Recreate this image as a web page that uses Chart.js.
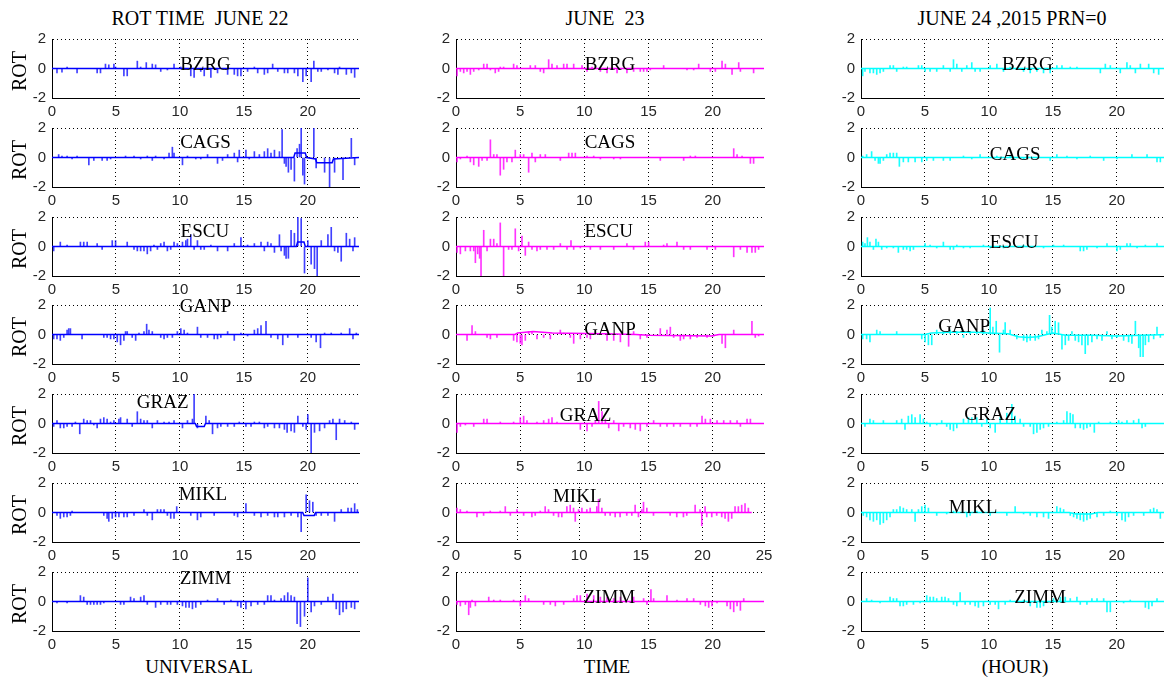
<!DOCTYPE html>
<html>
<head>
<meta charset="utf-8">
<script src="https://cdn.jsdelivr.net/npm/chart.js@4.4.1/dist/chart.umd.min.js"></script>
<style>
  html, body { margin: 0; padding: 0; background: #fff; }
  body { width: 1164px; height: 682px; position: relative; overflow: hidden; }
  canvas { position: absolute; }
  .txt { position: absolute; font-family: "Liberation Serif", "Times New Roman", serif; font-size: 19px;
         color: #000; white-space: pre; line-height: 1; transform: translate(-50%, -50%); }
  .ttl { font-size: 20px; }
  .rot { font-size: 20px; transform: translate(-50%, -50%) rotate(-90deg); }
</style>
</head>
<body>
<div class="txt ttl" style="left:200px;top:18px">ROT TIME  JUNE 22</div>
<div class="txt ttl" style="left:605px;top:18px">JUNE  23</div>
<div class="txt ttl" style="left:1012px;top:18px">JUNE 24 ,2015 PRN=0</div>
<div class="txt" style="left:199px;top:666px">UNIVERSAL</div>
<div class="txt" style="left:607px;top:666px">TIME</div>
<div class="txt" style="left:1015px;top:666px">(HOUR)</div>
<script>
// ROT spikes per station, [hour, ROT]
const bzrg22 = [[0.39,-0.3],[0.78,-0.25],[1.18,0.1],[1.96,-0.3],[3.53,-0.3],[3.79,-0.3],[4.18,0.3],[4.44,0.25],[4.84,0.3],[4.97,0.1],
  [5.62,-0.5],[5.88,-0.5],[6.67,0.5],[6.93,0.1],[7.37,0.4],[7.84,0.3],[8.10,0.25],[8.50,-0.2],[9.02,-0.1],[9.54,0.3],[10.07,0.1],
  [10.85,-0.5],[11.11,-0.6],[11.63,-0.2],[11.90,-0.5],[12.42,-0.6],[12.94,-0.3],[13.73,-0.4],[14.25,-0.4],[14.51,-0.5],[14.77,-0.5],
  [15.29,-0.2],[15.82,0.1],[16.08,-0.3],[16.60,-0.4],[16.86,-0.3],[17.25,0.3],[17.65,-0.2],[18.17,-0.3],[18.43,-0.3],[18.95,-0.3],
  [19.22,-0.5],[19.61,-0.9],[19.87,-0.5],[20.26,-0.9],[20.47,0.5],[20.78,-0.2],[21.05,-0.2],[21.57,-0.1],[22.09,-0.3],[22.35,-0.4],
  [22.48,0.1],[23.01,-0.4],[23.40,-0.3],[23.66,-0.6]];
const cags22 = [[0.52,0.2],[0.78,0.1],[1.18,0.1],[1.57,-0.1],[1.96,0.1],[2.88,-0.5],[3.27,-0.2],[3.92,-0.2],[4.31,-0.2],[4.58,-0.1],
  [5.75,0.1],[6.41,0.1],[6.93,-0.1],[7.45,0.1],[7.84,-0.2],[8.10,0.1],[8.76,-0.1],[9.15,0.3],[9.41,0.7],[9.54,0.3],[10.20,-0.5],
  [10.59,0.1],[11.24,-0.1],[11.63,-0.1],[12.16,0.2],[12.94,-0.4],[13.33,-0.2],[13.73,0.2],[14.25,0.3],[14.51,-0.3],[14.64,0.5],
  [15.16,0.5],[15.42,-0.1],[15.82,0.4],[16.21,0.2],[16.60,0.4],[16.86,0.6],[17.12,0.3],[17.39,0.5],[17.78,0.4],[17.99,1.9],
  [18.17,-0.4],[18.30,-0.6],[18.48,-1.0],[18.69,-0.8],[18.95,-1.6],[19.16,0.6],[19.35,0.9],[19.48,2.0],[19.61,-1.2],[19.74,-1.8],
  [20.47,2.0],[20.65,-0.7],[21.31,-1.0],[21.70,-2.0],[22.09,-1.0],[22.75,-1.5],[23.40,1.3],[23.66,-0.5]];
const escu22 = [[0.13,-0.3],[0.65,0.3],[1.18,0.1],[2.22,0.3],[2.48,0.3],[2.75,0.3],[3.53,0.2],[3.92,-0.2],[4.71,0.4],[4.97,0.4],
  [5.88,0.3],[6.41,-0.2],[6.67,-0.3],[6.93,-0.3],[7.19,-0.3],[7.45,-0.5],[7.71,-0.3],[7.97,0.1],[8.24,-0.2],[8.50,0.2],[8.76,0.3],
  [9.02,-0.3],[9.28,-0.2],[9.54,0.3],[9.80,0.2],[10.20,0.3],[10.46,0.4],[10.59,0.5],[10.85,0.8],[11.11,-0.2],[11.37,0.4],[11.63,-0.2],
  [11.90,-0.2],[12.42,0.1],[12.94,-0.3],[13.73,-0.3],[14.25,0.2],[14.77,0.6],[15.29,0.1],[15.82,0.2],[16.34,0.3],[16.60,-0.3],
  [16.86,0.3],[17.12,0.2],[17.39,-0.4],[17.78,0.8],[17.91,-0.3],[18.17,-0.6],[18.30,-0.8],[18.48,-0.8],[18.69,1.1],[18.95,0.9],
  [19.22,2.0],[19.48,1.9],[19.74,-1.8],[20.00,0.4],[20.26,-1.2],[20.52,-1.5],[20.73,-2.0],[21.05,0.4],[21.57,0.8],[21.83,1.3],
  [22.09,-0.3],[22.35,-0.4],[22.61,-1.0],[23.01,0.9],[23.27,0.5],[23.53,-0.3],[23.66,0.6]];
const ganp22 = [[0.13,-0.3],[0.39,-0.3],[0.65,-0.4],[0.92,-0.2],[1.18,0.3],[1.31,0.4],[1.44,0.4],[2.35,-0.3],[4.05,-0.2],[4.31,-0.2],
  [4.58,-0.3],[4.84,-0.3],[5.10,-0.5],[5.36,-0.7],[5.62,-0.4],[5.75,0.2],[5.88,0.2],[6.27,-0.2],[6.54,-0.4],[6.80,0.1],[7.19,0.2],
  [7.40,0.7],[7.58,0.3],[7.84,0.2],[8.50,-0.2],[8.76,-0.3],[9.02,-0.2],[9.41,-0.2],[9.80,0.2],[10.07,0.4],[10.33,0.3],[10.59,0.1],
  [11.37,0.5],[11.63,-0.2],[12.16,-0.2],[12.68,-0.3],[12.94,-0.3],[13.20,-0.2],[13.73,0.2],[14.25,-0.4],[14.77,0.1],[15.29,-0.1],
  [15.82,0.3],[16.08,0.4],[16.34,0.6],[16.73,0.9],[17.12,-0.2],[17.65,-0.3],[18.04,-0.7],[18.43,-0.2],[19.22,-0.2],[20.26,-0.2],
  [20.65,-0.5],[20.99,-0.9],[21.31,0.1],[21.83,0.1],[22.61,0.1],[23.27,0.4],[23.53,-0.3],[23.79,0.1]];
const graz22 = [[0.13,-0.2],[0.39,0.2],[0.65,-0.3],[0.92,-0.3],[1.18,-0.2],[1.57,-0.2],[1.83,0.1],[2.17,-0.7],[2.48,0.3],[2.75,0.2],
  [3.01,0.2],[3.27,-0.1],[3.53,-0.3],[3.79,0.3],[4.05,0.4],[4.31,0.3],[4.58,0.1],[4.84,0.2],[5.23,0.3],[5.36,0.4],[5.88,0.3],
  [6.27,-0.2],[6.67,0.8],[6.93,0.3],[7.19,0.2],[7.45,0.2],[7.84,-0.3],[8.24,0.2],[8.76,0.1],[9.15,0.1],[9.54,0.2],[10.20,-0.3],
  [10.59,0.2],[10.98,0.3],[11.11,2.0],[11.37,-0.3],[12.03,0.5],[12.29,0.2],[12.55,-0.7],[12.94,-0.3],[13.20,-0.2],[13.73,-0.2],
  [14.25,-0.2],[14.64,0.1],[15.16,-0.2],[15.56,-0.2],[15.82,0.1],[16.21,0.1],[16.60,-0.3],[16.86,-0.2],[17.39,-0.3],[17.78,-0.3],
  [18.17,-0.4],[18.38,-0.6],[18.69,-0.5],[18.95,-0.6],[19.22,0.5],[19.61,-0.2],[19.87,-0.4],[20.00,0.6],[20.26,-2.0],[20.52,-0.6],
  [20.92,-0.5],[21.31,-0.3],[21.70,0.2],[21.96,0.3],[22.22,-1.1],[22.48,0.3],[22.88,0.2],[23.40,0.1],[23.66,-0.4]];
const mikl22 = [[0.39,-0.2],[0.65,-0.4],[0.92,-0.3],[1.18,-0.3],[1.44,-0.2],[1.57,0.1],[4.05,-0.2],[4.31,-0.4],[4.44,-0.6],[4.71,-0.4],
  [4.97,-0.3],[5.23,-0.3],[5.62,-0.3],[5.88,-0.3],[6.41,-0.2],[7.19,0.2],[7.45,-0.2],[7.84,-0.5],[8.24,0.2],[8.50,0.2],[8.76,0.2],
  [9.02,-0.2],[9.28,-0.4],[9.54,-0.4],[9.75,0.4],[10.85,-0.2],[11.37,-0.5],[11.63,-0.3],[12.68,-0.2],[14.25,-0.2],[14.51,-0.3],
  [15.16,0.6],[15.82,-0.2],[16.34,-0.3],[16.86,-0.2],[17.39,-0.3],[17.65,-0.3],[18.17,-0.3],[18.69,-0.2],[19.22,-0.3],[19.48,-1.3],
  [19.87,1.2],[20.13,0.8],[20.39,0.7],[20.65,-0.2],[21.05,-0.2],[21.57,-0.2],[22.09,-0.6],[22.61,0.2],[23.14,0.3],[23.40,0.3],
  [23.66,0.6],[23.87,0.2]];
const zimm22 = [[0.39,-0.1],[1.18,-0.1],[2.22,0.4],[2.48,0.3],[2.75,-0.2],[3.01,-0.2],[3.27,-0.2],[3.53,-0.2],[3.79,-0.2],[4.05,-0.1],
  [5.36,-0.2],[5.62,-0.2],[6.14,0.3],[6.41,0.2],[6.93,0.3],[7.19,0.4],[7.45,-0.2],[8.10,-0.4],[8.50,-0.2],[9.02,-0.2],[9.28,-0.2],
  [9.80,-0.2],[10.20,-0.3],[10.46,-0.4],[10.72,-0.4],[10.98,-0.5],[11.24,-0.4],[11.63,-0.2],[12.16,0.1],[12.94,0.2],[13.46,-0.2],
  [13.99,0.1],[14.51,-0.3],[14.77,-0.4],[15.16,-0.5],[15.56,-0.3],[16.08,-0.2],[16.60,-0.2],[16.86,0.4],[17.12,0.4],[17.39,0.1],
  [17.91,0.2],[18.17,0.4],[18.43,0.6],[18.69,0.4],[18.95,0.3],[19.16,-1.5],[19.42,-1.7],[19.74,-1.0],[20.00,1.6],[20.26,-0.7],
  [20.52,-0.3],[21.05,-0.2],[21.57,0.3],[21.96,0.5],[22.22,-0.5],[22.48,-0.9],[22.75,-0.7],[23.01,-0.5],[23.40,-0.4],[23.66,-0.5]];

const bzrg23 = [[0.08,-0.5],[0.34,-0.2],[0.60,-0.3],[0.86,-0.2],[1.12,-0.4],[1.38,-0.2],[1.77,-0.1],[2.16,0.3],[2.42,0.3],[2.68,-0.1],
  [3.06,-0.3],[3.32,-0.2],[3.45,0.1],[3.71,0.1],[4.49,0.3],[4.75,0.2],[5.79,0.2],[6.18,0.2],[6.57,-0.2],[6.83,-0.3],[7.22,0.6],
  [7.48,0.3],[7.87,0.2],[8.39,0.3],[8.65,0.3],[9.17,0.3],[9.82,0.2],[10.21,-0.2],[10.60,0.1],[11.25,-0.2],[11.77,-0.3],[12.55,-0.3],
  [13.32,-0.3],[13.84,-0.2],[14.36,-0.2],[14.62,-0.2],[14.88,-0.2],[15.14,-0.1],[16.18,0.2],[18.00,-0.1],[18.52,-0.1],[18.91,0.3],
  [19.82,-0.2],[20.21,-0.2],[20.73,0.5],[20.99,0.3],[21.51,-0.4],[22.03,0.4],[22.16,-0.2],[23.19,-0.3]];
const cags23 = [[0.08,-0.3],[0.34,-0.1],[0.86,0.1],[1.12,-0.3],[1.38,-0.5],[1.77,-0.6],[2.03,-0.2],[2.42,-0.2],[2.68,1.2],[2.94,0.2],
  [3.19,0.2],[3.45,-1.2],[3.71,-0.8],[3.97,-0.3],[4.36,-0.3],[4.62,0.5],[5.01,0.2],[5.27,0.2],[5.66,-1.0],[5.92,0.3],[6.18,-0.3],
  [6.57,0.2],[6.96,0.2],[8.13,-0.2],[8.78,0.3],[9.04,0.3],[9.30,0.3],[10.21,0.1],[10.73,0.1],[11.25,-0.1],[12.29,-0.1],[12.81,-0.1],
  [15.92,-0.2],[17.74,-0.2],[18.26,0.1],[18.65,0.1],[21.64,0.6],[21.90,0.2],[22.29,0.1],[22.94,-0.4],[23.19,-0.4]];
const escu23 = [[0.08,-0.4],[0.34,-0.5],[0.73,-0.3],[1.12,-0.3],[1.38,-0.3],[1.51,-1.1],[1.69,-0.5],[1.84,-0.8],[1.95,-2.0],[2.16,1.1],
  [2.42,-0.3],[2.68,0.5],[2.94,0.5],[3.19,0.2],[3.45,1.6],[3.71,-2.0],[4.10,-0.2],[4.36,-0.2],[4.62,1.2],[4.88,-0.3],[5.14,0.7],
  [5.40,-0.6],[5.66,0.3],[5.92,-0.2],[6.31,-0.3],[6.57,-0.2],[7.09,-0.2],[7.61,-0.2],[8.13,0.2],[8.65,-0.2],[8.96,0.4],[9.17,-0.2],
  [9.69,-0.1],[10.47,-0.2],[11.25,-0.2],[12.29,-0.2],[13.32,0.2],[13.84,-0.2],[14.75,0.3],[15.01,0.3],[16.18,0.1],[16.44,0.2],
  [17.22,0.3],[17.74,-0.2],[18.26,-0.2],[19.56,-0.2],[20.21,-0.2],[21.64,-0.7],[22.16,-0.2],[22.68,-0.4],[23.06,-0.4],[23.32,-0.4],
  [23.58,-0.2]];
const ganp23 = [[0.86,-0.4],[1.25,0.6],[1.51,0.2],[2.42,-0.2],[2.68,-0.3],[3.19,-0.2],[4.49,-0.4],[4.75,-0.5],[5.01,-0.6],[5.14,-0.7],
  [5.40,-0.4],[5.66,0.2],[5.92,0.2],[6.31,-0.3],[6.83,-0.2],[7.35,-0.3],[8.13,0.3],[8.39,0.1],[8.91,-0.2],[9.17,-0.6],[9.69,-0.3],
  [10.21,-0.2],[10.47,-0.3],[11.77,-0.4],[12.29,-0.4],[12.81,-0.5],[13.45,-0.8],[13.84,0.2],[14.36,-0.3],[14.88,-0.2],[15.92,0.4],
  [16.44,0.3],[16.70,0.5],[16.96,-0.2],[17.48,-0.4],[17.74,-0.3],[18.26,-0.3],[18.78,-0.2],[19.56,-0.2],[20.08,-0.1],[20.73,-0.6],
  [20.99,-0.9],[21.64,0.3],[23.06,0.9],[23.32,-0.2],[23.58,-0.1]];
const graz23 = [[0.08,-0.6],[0.34,-0.2],[0.73,-0.1],[1.38,-0.2],[2.16,0.3],[2.42,0.3],[3.45,0.1],[4.49,0.1],[5.01,0.4],[5.27,0.5],
  [5.53,0.2],[6.31,0.1],[6.83,0.2],[7.22,0.3],[7.48,0.4],[7.87,0.1],[9.69,-0.4],[10.21,-0.5],[10.60,-0.2],[10.86,0.2],[11.12,1.5],
  [11.38,0.8],[11.64,0.3],[11.90,-0.3],[12.29,0.2],[12.68,-0.5],[13.06,-0.2],[13.58,-0.3],[13.97,-0.4],[14.36,-0.5],[14.88,-0.2],
  [15.40,0.2],[15.92,-0.2],[16.44,-0.2],[16.96,-0.2],[17.48,-0.2],[18.26,-0.2],[18.78,-0.2],[19.17,0.5],[19.43,0.3],[19.82,0.3],
  [20.34,0.2],[20.86,0.2],[21.38,0.2],[21.90,0.2],[22.16,-0.2],[22.68,0.3],[22.94,0.3]];
const mikl23 = [[0.08,0.3],[0.35,0.2],[0.89,0.1],[1.70,-0.3],[2.24,-0.2],[2.78,0.1],[3.59,0.1],[4.00,0.4],[4.41,-0.2],[4.95,0.2],
  [5.49,-0.2],[6.16,-0.3],[6.43,-0.2],[6.84,0.1],[7.24,0.4],[7.51,0.2],[7.92,-0.2],[8.32,-0.3],[8.59,-0.3],[9.00,0.4],[9.27,0.5],
  [9.54,0.3],[9.68,-0.6],[9.95,0.2],[10.22,0.3],[10.62,0.2],[10.89,0.3],[11.43,0.4],[11.57,0.9],[11.84,0.3],[12.11,-0.2],[12.51,-0.2],
  [12.92,-0.3],[13.32,-0.3],[13.86,-0.2],[14.27,-0.2],[14.54,0.5],[14.81,-0.3],[15.08,0.2],[15.22,0.7],[15.49,0.3],[16.03,-0.2],
  [17.38,-0.2],[17.92,-0.3],[18.46,-0.3],[18.73,-0.2],[19.41,0.5],[19.81,0.2],[19.95,-0.9],[20.22,0.4],[20.35,-0.3],[20.76,-0.3],
  [21.16,-0.2],[21.57,-0.3],[21.84,-0.4],[22.11,-0.6],[22.38,-0.4],[22.65,0.4],[22.92,0.4],[23.19,0.5],[23.46,0.6],[23.73,0.3]];
const zimm23 = [[0.08,-0.2],[0.34,-0.3],[0.73,-0.2],[0.99,-0.9],[1.12,-0.4],[1.25,0.1],[1.51,-0.3],[2.55,0.3],[2.94,0.1],[3.45,0.1],
  [4.49,0.1],[5.01,-0.3],[5.40,0.4],[5.66,0.2],[6.83,-0.2],[7.35,-0.2],[7.74,-0.3],[8.39,-0.2],[9.17,0.2],[9.43,0.4],[9.69,0.4],
  [10.21,0.5],[10.73,0.4],[11.25,0.3],[11.77,0.3],[12.29,0.2],[12.81,0.3],[13.84,0.3],[14.62,0.2],[14.88,-0.2],[15.19,0.8],
  [15.40,0.2],[16.44,0.4],[17.22,0.1],[18.00,0.2],[18.52,0.2],[19.04,-0.2],[19.43,-0.3],[19.69,-0.4],[19.95,-0.3],[20.34,-0.1],
  [21.12,-0.3],[21.38,-0.5],[21.64,-0.7],[21.90,-0.3],[22.16,-0.6],[22.42,0.2]];

const bzrg24 = [[0.13,-0.5],[0.31,-0.2],[0.70,-0.3],[0.97,-0.3],[1.23,-0.4],[1.49,-0.3],[1.75,-0.2],[2.27,0.2],[2.53,0.2],[2.79,-0.2],
  [3.31,0.1],[3.57,0.1],[4.49,0.2],[4.75,0.2],[5.01,-0.2],[5.40,-0.2],[5.92,-0.2],[6.44,0.2],[6.97,-0.2],[7.23,0.6],[7.49,0.3],
  [7.88,-0.2],[8.27,0.2],[8.66,0.4],[8.92,-0.2],[9.31,-0.2],[10.10,0.2],[10.62,0.3],[11.14,-0.2],[11.66,0.1],[12.71,-0.2],
  [13.23,-0.3],[13.75,-0.2],[14.27,-0.3],[14.79,-0.3],[15.31,0.2],[15.71,0.2],[16.36,0.1],[16.88,0.1],[18.71,-0.3],[19.10,0.3],
  [19.49,0.2],[20.27,-0.3],[20.79,0.4],[21.05,0.2],[21.45,-0.3],[21.84,0.3],[22.49,0.3],[22.88,-0.3],[23.27,-0.4]];
const cags24 = [[0.13,0.1],[0.44,0.2],[0.83,0.4],[1.10,-0.2],[1.36,-0.4],[1.49,-0.4],[1.75,-0.2],[2.01,0.2],[2.27,0.3],[2.53,0.3],
  [2.79,0.3],[3.00,-0.6],[3.31,-0.3],[3.70,-0.3],[4.23,-0.3],[4.75,-0.3],[5.14,-0.2],[5.66,-0.2],[6.44,-0.2],[6.97,-0.2],[8.01,0.1],
  [8.66,-0.1],[9.31,0.2],[10.62,0.1],[11.66,0.1],[12.71,-0.1],[14.79,-0.2],[15.31,0.2],[16.10,0.1],[16.88,-0.1],[17.92,0.1],
  [18.97,-0.2],[20.01,-0.1],[21.18,0.2],[22.36,0.2],[23.14,-0.3],[23.40,-0.3]];
const escu24 = [[0.13,0.3],[0.31,0.2],[0.50,0.6],[0.70,0.3],[0.97,-0.2],[1.17,0.5],[1.36,0.3],[1.62,-0.2],[2.01,-0.1],[2.53,-0.1],
  [2.92,-0.4],[3.31,-0.2],[3.57,-0.2],[3.84,-0.3],[4.10,-0.2],[5.01,0.2],[5.40,0.1],[5.92,-0.1],[6.44,0.3],[6.97,-0.2],[7.23,-0.2],
  [7.49,0.1],[8.01,-0.1],[8.53,-0.1],[9.57,0.1],[10.10,-0.1],[11.14,-0.1],[12.71,0.1],[14.27,-0.1],[15.05,0.1],[15.84,0.1],
  [17.14,-0.3],[17.40,-0.3],[17.66,-0.2],[18.45,-0.1],[19.23,0.2],[20.01,-0.3],[20.27,-0.2],[20.79,0.2],[21.05,0.2],[21.58,-0.1],
  [22.23,0.1],[23.14,0.2]];
const ganp24 = [[0.13,-0.3],[0.44,-0.3],[0.70,-0.5],[1.23,0.3],[1.49,0.2],[2.79,0.2],[4.75,-0.3],[5.01,-0.5],[5.27,-0.7],[5.53,-0.7],
  [5.92,0.3],[6.44,0.2],[6.97,0.3],[7.49,0.2],[8.01,-0.2],[8.53,0.2],[9.05,0.2],[9.57,0.3],[10.10,1.8],[10.31,0.5],[10.57,0.9],
  [10.83,-1.2],[11.14,0.3],[11.27,0.8],[11.66,0.3],[12.18,-0.3],[12.71,-0.4],[12.97,-0.5],[13.23,-0.4],[13.62,-0.4],[13.88,-0.3],
  [14.14,0.3],[14.53,0.2],[14.74,1.3],[14.92,0.5],[15.18,0.9],[15.44,0.8],[15.71,-1.0],[15.97,-0.7],[16.23,-0.4],[16.49,0.2],
  [16.75,-0.4],[17.01,-0.5],[17.27,-0.7],[17.53,-1.3],[17.74,-0.7],[18.05,-0.5],[18.45,-0.3],[18.84,-0.4],[19.23,0.2],[19.62,-0.3],
  [20.01,-0.2],[20.53,-0.4],[20.92,-0.5],[21.18,-0.6],[21.45,0.9],[21.71,-0.9],[21.84,-1.5],[22.05,-1.5],[22.23,-0.7],[22.49,-0.5],
  [22.88,-0.3],[23.14,0.5],[23.40,-0.2]];
const graz24 = [[0.31,-0.2],[0.70,0.3],[0.97,0.2],[1.75,0.2],[2.79,0.2],[3.18,0.3],[3.44,-0.4],[3.70,0.5],[3.97,0.6],[4.23,0.4],
  [4.62,0.6],[4.88,0.3],[5.14,0.1],[5.40,-0.2],[5.92,-0.1],[6.31,0.2],[6.70,-0.2],[6.97,-0.4],[7.23,-0.5],[7.49,-0.3],[8.01,0.3],
  [8.40,0.4],[8.66,0.4],[9.05,0.4],[9.44,-0.2],[9.84,0.3],[10.10,-0.3],[10.49,-0.6],[10.88,0.4],[11.40,0.7],[11.79,1.3],[12.05,0.5],
  [12.44,0.3],[12.71,-0.2],[13.23,-0.2],[13.49,-0.7],[13.75,-0.6],[14.01,-0.4],[14.27,-0.3],[14.66,-0.2],[15.31,0.1],[15.84,0.2],
  [16.10,0.8],[16.36,0.7],[16.57,0.6],[16.75,-0.3],[17.14,-0.3],[17.40,-0.4],[17.66,-0.3],[17.92,-0.2],[18.24,-0.6],[18.58,0.1],
  [19.49,0.1],[20.14,0.2],[20.40,0.1],[20.79,0.2],[21.31,0.2],[21.71,0.3],[21.97,-0.3],[22.23,-0.2]];
const mikl24 = [[0.18,-0.2],[0.44,-0.3],[0.70,-0.5],[0.97,-0.6],[1.23,-0.5],[1.49,-0.8],[1.75,-0.7],[2.01,-0.5],[2.27,-0.3],[2.53,0.2],
  [2.79,0.2],[3.05,0.4],[3.31,0.3],[3.57,0.2],[3.97,0.2],[4.23,-0.6],[4.49,0.2],[4.75,0.4],[5.01,0.5],[5.27,0.3],[5.92,-0.2],
  [6.70,-0.1],[7.23,0.1],[8.27,-0.3],[8.53,-0.2],[9.05,0.1],[10.10,-0.2],[11.40,-0.2],[12.05,0.4],[12.71,-0.1],[13.23,-0.2],
  [13.75,-0.3],[14.27,-0.3],[14.66,-0.4],[15.31,0.4],[15.58,0.3],[15.84,0.2],[16.36,-0.2],[16.62,-0.3],[16.88,-0.4],[17.14,-0.5],
  [17.40,-0.6],[17.66,-0.5],[17.92,-0.4],[18.45,-0.3],[18.97,-0.2],[19.49,0.1],[20.01,-0.2],[20.40,-0.5],[20.66,-0.6],[20.92,-0.3],
  [21.31,-0.2],[22.10,-0.2],[22.62,0.2],[22.88,0.3],[23.14,0.2],[23.40,-0.4]];
const zimm24 = [[0.44,0.2],[0.83,0.1],[1.49,-0.1],[2.27,0.3],[2.53,0.2],[2.79,0.2],[3.05,-0.3],[3.31,-0.3],[3.57,-0.2],[4.10,-0.2],
  [4.62,-0.1],[5.14,0.4],[5.40,0.3],[5.66,0.3],[5.92,0.2],[6.31,0.3],[6.57,0.3],[6.84,0.2],[7.23,-0.2],[7.49,-0.3],[7.75,0.6],
  [8.14,-0.2],[8.53,-0.2],[8.92,-0.3],[9.18,-0.4],[9.57,-0.3],[10.10,-0.2],[10.49,-0.2],[10.75,-0.5],[11.27,-0.2],[11.66,0.1],
  [12.71,0.1],[13.23,-0.3],[13.75,-0.4],[14.01,-0.4],[14.27,-0.3],[15.05,0.2],[15.58,0.3],[15.97,0.3],[16.36,0.2],[16.88,0.3],
  [17.14,-0.2],[17.66,-0.2],[18.05,0.2],[18.45,0.2],[18.97,0.2],[19.23,-0.7],[19.49,-0.7],[20.53,-0.1],[21.05,0.1],[22.23,-0.4],
  [22.49,-0.5],[22.75,-0.3],[23.14,0.2]];

// slow baseline drift where the trace leaves zero
const flatBase = [[0,0],[24,0]];
const cags22Base = [[0,0],[18.9,0],[19.0,0.3],[19.8,0.3],[19.9,0],[20.6,-0.1],[20.7,-0.35],[21.9,-0.35],[22.0,-0.1],[24,0]];
const escu22Base = [[0,0],[19.1,0],[19.2,0.3],[19.7,0.3],[19.8,0],[24,0]];
const graz22Base = [[0,0],[11.2,0],[11.3,-0.2],[11.9,-0.2],[12.0,0],[24,0]];
const mikl22Base = [[0,0],[19.6,0],[19.7,-0.2],[20.5,-0.2],[20.6,0],[24,0]];
const ganp23Base = [[0,0],[4.6,0],[4.8,0.1],[6.0,0.2],[7.5,0.1],[11.5,0.05],[14,0],[15,-0.05],[19.9,-0.1],[20.5,0],[24,0]];
const mikl23Base = [[0,0],[24,0]];
const ganp24Base = [[0,0],[5,0],[5.5,0.1],[7,0.15],[9,0.15],[10,0.1],[11.5,0.05],[12.3,-0.15],[13,-0.2],[13.8,-0.15],[14.5,0],
  [15,0.1],[16,-0.05],[18,-0.05],[20,-0.1],[22,-0.05],[24,0]];
const mikl24Base = [[0,0],[16.3,0],[16.8,-0.1],[18,-0.1],[18.5,0],[24,0]];

const stations = ['BZRG', 'CAGS', 'ESCU', 'GANP', 'GRAZ', 'MIKL', 'ZIMM'];
const days = [
  [bzrg22, cags22, escu22, ganp22, graz22, mikl22, zimm22],
  [bzrg23, cags23, escu23, ganp23, graz23, mikl23, zimm23],
  [bzrg24, cags24, escu24, ganp24, graz24, mikl24, zimm24]
];
const bases = [
  [flatBase, cags22Base, escu22Base, flatBase, graz22Base, mikl22Base, flatBase],
  [flatBase, flatBase, flatBase, ganp23Base, flatBase, mikl23Base, flatBase],
  [flatBase, flatBase, flatBase, ganp24Base, flatBase, mikl24Base, flatBase]
];
const xTicks = [0, 5, 10, 15, 20];
const xTicksLong = [0, 5, 10, 15, 20, 25];
const yTicks = [-2, 0, 2];

// where each station name sits, in (hour, ROT)
const labelAt = [
  [[12.0,0.26],[12.0,0.98],[11.95,0.97],[12.0,1.84],[8.65,1.4],[11.8,1.2],[12.0,1.5]],
  [[12.0,0.26],[12.0,0.98],[11.9,0.97],[12.0,0.3],[10.1,0.5],[9.84,1.05],[11.95,0.24]],
  [[13.0,0.26],[12.05,0.19],[11.97,0.22],[8.06,0.53],[10.1,0.57],[8.76,0.3],[14.0,0.24]]
];

const lineColors = ['#0000ff', '#ff00ff', '#00ffff'];
const spikeColors = ['rgba(0,0,255,0.75)', 'rgba(255,0,255,0.8)', 'rgba(0,255,255,0.9)'];
const colX = [52, 456, 861];
const plotW = [307, 308, 307];
const rowTop = [39, 128, 217, 305, 394, 483, 572];
const plotH = 59;
const LM = 50, TM = 10, RM = 14, BM = 26;

Chart.defaults.font.family = '"Liberation Sans", Arial, sans-serif';

const stationLabel = {
  id: 'stationLabel',
  afterDatasetsDraw(chart, args, opts) {
    const { ctx, scales: { x, y } } = chart;
    ctx.save();
    ctx.font = '19px "Liberation Serif", "Times New Roman", serif';
    ctx.fillStyle = '#000';
    ctx.textAlign = 'center';
    ctx.textBaseline = 'middle';
    ctx.fillText(opts.text, x.getPixelForValue(opts.at[0]), y.getPixelForValue(opts.at[1]));
    ctx.restore();
  }
};

const toXY = pts => pts.map(p => ({ x: p[0], y: p[1] }));

function drawPanel(col, row) {
  const long = (col === 1 && row === 5);
  const ticksX = long ? xTicksLong : xTicks;
  const w = LM + plotW[col] + RM, h = TM + plotH + BM;
  const cv = document.createElement('canvas');
  cv.width = w; cv.height = h;
  cv.style.left = (colX[col] - LM) + 'px';
  cv.style.top = (rowTop[row] - TM) + 'px';
  cv.style.width = w + 'px'; cv.style.height = h + 'px';
  document.body.appendChild(cv);

  const tickFont = { size: 15, family: '"Liberation Sans", Arial, sans-serif' };
  new Chart(cv.getContext('2d'), {
    type: 'bar',
    data: {
      datasets: [
        { type: 'line', data: toXY(bases[col][row]), borderColor: lineColors[col], borderWidth: 1.5,
          pointRadius: 0, tension: 0, order: 0 },
        { type: 'bar', data: toXY(days[col][row]), backgroundColor: spikeColors[col], borderWidth: 0,
          barThickness: 1, order: 1 }
      ]
    },
    options: {
      responsive: false,
      devicePixelRatio: 1,
      animation: false,
      events: [],
      layout: { padding: { top: TM, right: RM, left: 0, bottom: 0 } },
      plugins: {
        legend: { display: false },
        tooltip: { enabled: false },
        stationLabel: { text: stations[row], at: labelAt[col][row] }
      },
      scales: {
        x: {
          type: 'linear', min: 0, max: long ? 25 : 24, offset: false,
          afterBuildTicks: s => { s.ticks = ticksX.map(v => ({ value: v })); },
          afterFit: s => { s.height = BM; s.paddingLeft = 0; s.paddingRight = 0; },
          grid: { offset: false, drawTicks: false, lineWidth: 1,
                  color: c => (c.tick && c.tick.value === 0) ? 'rgba(0,0,0,0)' : '#000' },
          border: { display: true, color: '#000', width: 1, dash: [1, 3] },
          ticks: { padding: 5, color: '#262626', font: tickFont, maxRotation: 0, autoSkip: false,
                   callback: v => String(v) }
        },
        y: {
          type: 'linear', min: -2, max: 2,
          afterBuildTicks: s => { s.ticks = yTicks.map(v => ({ value: v })); },
          afterFit: s => { s.width = LM; s.paddingTop = 0; s.paddingBottom = 0; },
          grid: { drawTicks: false, lineWidth: 1,
                  color: c => (c.tick && c.tick.value === -2) ? 'rgba(0,0,0,0)' : '#000' },
          border: { display: true, color: '#000', width: 1, dash: [1, 3] },
          ticks: { padding: 6, color: '#262626', font: tickFont, callback: v => String(v) }
        }
      }
    },
    plugins: [stationLabel]
  });
}

for (let col = 0; col < 3; col++) {
  for (let row = 0; row < stations.length; row++) drawPanel(col, row);
}

// y-axis label, left column only
for (let row = 0; row < rowTop.length; row++) {
  const d = document.createElement('div');
  d.className = 'txt rot';
  d.style.left = '19px';
  d.style.top = (rowTop[row] + 32) + 'px';
  d.textContent = 'ROT';
  document.body.appendChild(d);
}
</script>
</body>
</html>
